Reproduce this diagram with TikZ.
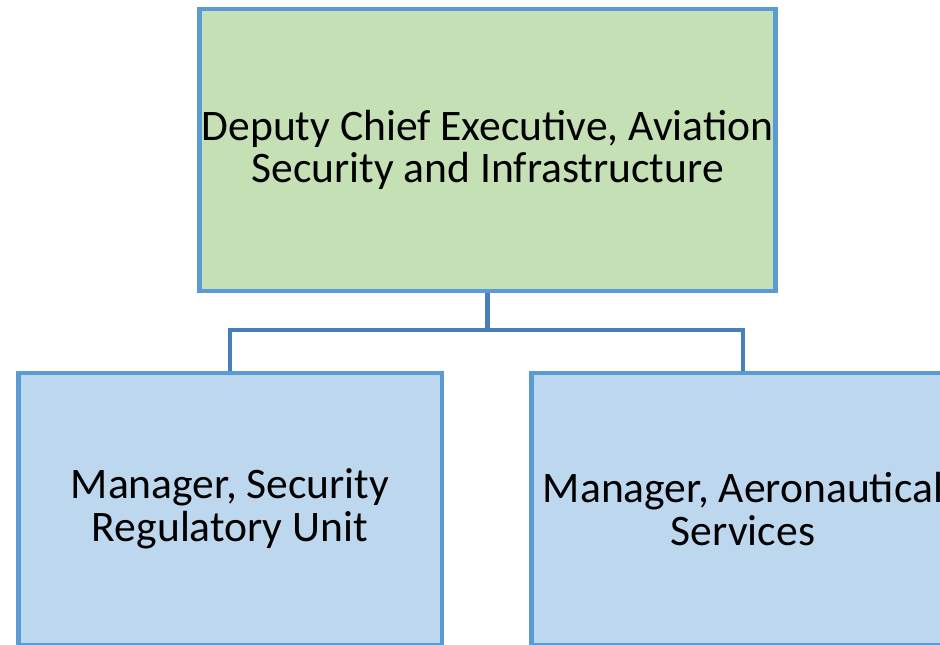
\documentclass[tikz,border=0pt]{standalone}
\usepackage{fontspec}
\setmainfont{Carlito}
\definecolor{boxline}{HTML}{5B9BD5}
\definecolor{linkline}{HTML}{4A7EBB}
\definecolor{headfill}{HTML}{C5E0B4}
\definecolor{unitfill}{HTML}{BDD7EE}
\tikzset{
  post/.style={draw=boxline, line width=2.8pt, align=center, font=\fontsize{24.8}{24.3}\selectfont, inner sep=0pt},
  link/.style={draw=linkline, line width=2.8pt}
}
\begin{document}
\begin{tikzpicture}[x=0.02cm, y=-0.02cm]
    \useasboundingbox (0, 0) rectangle (940, 645);
    \clip (0, 0) rectangle (940, 645);
    \fill[white] (0, 0) rectangle (940, 645);
    \node[post, fill=headfill, minimum width=11.54cm, minimum height=5.64cm] (head) at (487.5, 150) {Deputy Chief Executive, Aviation\\Security and Infrastructure};
    \node[post, fill=unitfill, minimum width=8.48cm, minimum height=5.44cm] (secu) at (230, 509) {Manager, Security\\Regulatory Unit};
    \node[post, fill=unitfill, minimum width=8.48cm, minimum height=5.44cm] (aero) at (743, 509) {Manager, Aeronautical\\Services};
    \coordinate (bus) at (487.5, 330);
    \draw[link] (head.south) -- (bus);
    \draw[link] (secu.north) |- (bus) -| (aero.north);
\end{tikzpicture}
\end{document}
